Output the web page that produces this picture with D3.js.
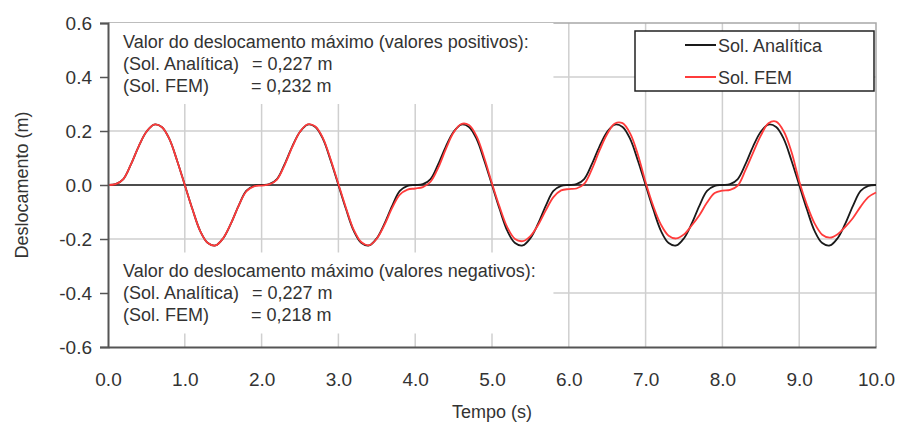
<!DOCTYPE html>
<html>
<head>
<meta charset="utf-8">
<script src="https://cdn.jsdelivr.net/npm/d3@7"></script>
<style>
  body { margin: 0; background: #fff; }
  svg { display: block; font-family: "Liberation Sans", Arial, sans-serif; }
</style>
</head>
<body>
<svg width="898" height="426"></svg>
<script>
// time (s)
var tempo = [
  0.0, 0.1, 0.2, 0.3, 0.4, 0.5, 0.6, 0.7, 0.8, 0.9,
  1.0, 1.1, 1.2, 1.3, 1.4, 1.5, 1.6, 1.7, 1.8, 1.9,
  2.0, 2.1, 2.2, 2.3, 2.4, 2.5, 2.6, 2.7, 2.8, 2.9,
  3.0, 3.1, 3.2, 3.3, 3.4, 3.5, 3.6, 3.7, 3.8, 3.9,
  4.0, 4.1, 4.2, 4.3, 4.4, 4.5, 4.6, 4.7, 4.8, 4.9,
  5.0, 5.1, 5.2, 5.3, 5.4, 5.5, 5.6, 5.7, 5.8, 5.9,
  6.0, 6.1, 6.2, 6.3, 6.4, 6.5, 6.6, 6.7, 6.8, 6.9,
  7.0, 7.1, 7.2, 7.3, 7.4, 7.5, 7.6, 7.7, 7.8, 7.9,
  8.0, 8.1, 8.2, 8.3, 8.4, 8.5, 8.6, 8.7, 8.8, 8.9,
  9.0, 9.1, 9.2, 9.3, 9.4, 9.5, 9.6, 9.7, 9.8, 9.9,
  10.0
];

// Sol. Analitica (m)
var analitica = [
  0.000, 0.003, 0.022, 0.077, 0.143, 0.197, 0.224, 0.215, 0.170, 0.090,
  0.000, -0.090, -0.170, -0.215, -0.224, -0.197, -0.143, -0.077, -0.022, -0.003,
  0.000, 0.003, 0.022, 0.077, 0.143, 0.197, 0.224, 0.215, 0.170, 0.090,
  0.000, -0.090, -0.170, -0.215, -0.224, -0.197, -0.143, -0.077, -0.022, -0.003,
  0.000, 0.003, 0.022, 0.077, 0.143, 0.197, 0.224, 0.215, 0.170, 0.090,
  0.000, -0.090, -0.170, -0.215, -0.224, -0.197, -0.143, -0.077, -0.022, -0.003,
  0.000, 0.003, 0.022, 0.077, 0.143, 0.197, 0.224, 0.215, 0.170, 0.090,
  0.000, -0.090, -0.170, -0.215, -0.224, -0.197, -0.143, -0.077, -0.022, -0.003,
  0.000, 0.003, 0.022, 0.077, 0.143, 0.197, 0.224, 0.215, 0.170, 0.090,
  0.000, -0.090, -0.170, -0.215, -0.224, -0.197, -0.143, -0.077, -0.022, -0.003,
  0.000
];

// Sol. FEM (m)
var fem = [
  0.000, 0.003, 0.022, 0.077, 0.143, 0.197, 0.224, 0.215, 0.170, 0.090,
  0.000, -0.090, -0.170, -0.215, -0.224, -0.197, -0.143, -0.078, -0.024, -0.005,
  -0.002, 0.002, 0.020, 0.074, 0.141, 0.197, 0.225, 0.217, 0.173, 0.094,
  0.004, -0.086, -0.166, -0.212, -0.223, -0.199, -0.148, -0.085, -0.036, -0.017,
  -0.013, -0.008, 0.012, 0.064, 0.134, 0.194, 0.226, 0.222, 0.180, 0.100,
  0.006, -0.082, -0.157, -0.200, -0.208, -0.189, -0.148, -0.094, -0.045, -0.020,
  -0.015, -0.013, 0.004, 0.058, 0.128, 0.189, 0.228, 0.229, 0.190, 0.112,
  0.010, -0.078, -0.147, -0.188, -0.198, -0.183, -0.150, -0.112, -0.065, -0.030,
  -0.021, -0.018, -0.002, 0.055, 0.120, 0.183, 0.229, 0.235, 0.198, 0.122,
  0.014, -0.073, -0.142, -0.184, -0.195, -0.182, -0.155, -0.122, -0.080, -0.045,
  -0.028
];

var xTicks = [0, 1, 2, 3, 4, 5, 6, 7, 8, 9, 10];
var yTicks = [-0.6, -0.4, -0.2, 0, 0.2, 0.4, 0.6];

var textoPos = [
  "Valor do deslocamento máximo (valores positivos):",
  "(Sol. Analítica)", "= 0,227 m",
  "(Sol. FEM)", "= 0,232 m"
];
var textoNeg = [
  "Valor do deslocamento máximo (valores negativos):",
  "(Sol. Analítica)", "= 0,227 m",
  "(Sol. FEM)", "= 0,218 m"
];

var series = [
  { name: "Sol. Analítica", values: analitica, color: "#1a1a1a" },
  { name: "Sol. FEM", values: fem, color: "#ff3b3b" }
];

var margin = { top: 23, right: 22, bottom: 79, left: 108 };
var svg = d3.select('svg');
var width = +svg.attr('width') - margin.left - margin.right;
var height = +svg.attr('height') - margin.top - margin.bottom;

var x = d3.scaleLinear().domain([0, 10]).range([0, width]);
var y = d3.scaleLinear().domain([-0.6, 0.6]).range([height, 0]);

var g = svg.append('g').attr('transform', 'translate(' + margin.left + ',' + margin.top + ')');

// grid
g.append('g').attr('class', 'grid')
  .selectAll('line.v').data(xTicks.slice(1, -1)).enter().append('line')
  .attr('x1', function(d) { return x(d); }).attr('x2', function(d) { return x(d); })
  .attr('y1', 0).attr('y2', height)
  .style('stroke', '#cfcfcf').style('stroke-width', 1.5);

g.append('g').attr('class', 'grid')
  .selectAll('line.h').data(yTicks.filter(function(d) { return d !== 0 && Math.abs(d) < 0.6; })).enter().append('line')
  .attr('x1', 0).attr('x2', width)
  .attr('y1', function(d) { return y(d); }).attr('y2', function(d) { return y(d); })
  .style('stroke', '#cfcfcf').style('stroke-width', 1.5);

// top / right frame
g.append('path')
  .attr('d', 'M0,' + y(0.6) + 'H' + x(10) + 'V' + y(-0.6))
  .style('fill', 'none').style('stroke', '#a8a8a8').style('stroke-width', 1.5);

// white boxes behind the annotations
g.append('rect').attr('x', 0).attr('y', 0)
  .attr('width', x(5.8)).attr('height', y(0.3))
  .style('fill', '#fff');
g.append('rect').attr('x', 0).attr('y', y(-0.25))
  .attr('width', x(5.8)).attr('height', y(-0.55) - y(-0.25))
  .style('fill', '#fff');

// zero line
g.append('line')
  .attr('x1', 0).attr('x2', width)
  .attr('y1', y(0)).attr('y2', y(0))
  .style('stroke', '#111').style('stroke-width', 1.5);

var line = d3.line()
  .x(function(d) { return x(d[0]); })
  .y(function(d) { return y(d[1]); })
  .curve(d3.curveCatmullRom.alpha(0.5));

g.selectAll('path.serie').data(series).enter().append('path')
  .attr('class', 'serie')
  .attr('d', function(s) {
    return line(tempo.map(function(t, i) { return [t, s.values[i]]; }));
  })
  .style('fill', 'none')
  .style('stroke', function(s) { return s.color; })
  .style('stroke-width', 1.8);

// axes
var yAxis = g.append('g')
  .call(d3.axisLeft(y).tickValues(yTicks).tickSize(8).tickPadding(8)
    .tickFormat(function(d) { return d.toFixed(1); }));
var xAxis = g.append('g').attr('transform', 'translate(0,' + height + ')')
  .call(d3.axisBottom(x).tickValues(xTicks).tickSize(0).tickPadding(26)
    .tickFormat(function(d) { return d.toFixed(1); }));

[yAxis, xAxis].forEach(function(a) {
  a.select('.domain').style('stroke', '#555').style('stroke-width', 2);
  a.selectAll('.tick line').style('stroke', '#555').style('stroke-width', 1.5);
  a.selectAll('.tick text').style('font-size', '19px').style('fill', '#333')
    .style('font-family', '"Liberation Sans", Arial, sans-serif');
});

// annotation text
function bloco(linhas, y0) {
  var t = g.append('g').style('font-size', '18px').style('fill', '#333');
  t.append('text').attr('x', 15).attr('y', y0).text(linhas[0]);
  t.append('text').attr('x', 15).attr('y', y0 + 22).text(linhas[1]);
  t.append('text').attr('x', 144).attr('y', y0 + 22).text(linhas[2]);
  t.append('text').attr('x', 15).attr('y', y0 + 44).text(linhas[3]);
  t.append('text').attr('x', 143).attr('y', y0 + 44).text(linhas[4]);
}
bloco(textoPos, 25);
bloco(textoNeg, 254);

// legend
var leg = g.append('g').attr('transform', 'translate(527,8)');
leg.append('rect').attr('width', 239).attr('height', 60)
  .style('fill', '#fff').style('stroke', '#222').style('stroke-width', 1.5);
var item = leg.selectAll('g.item').data(series).enter().append('g')
  .attr('transform', function(d, i) { return 'translate(50,' + (14 + i * 32) + ')'; });
item.append('line').attr('x1', 0).attr('x2', 31)
  .style('stroke', function(d) { return d.color; }).style('stroke-width', 2);
item.append('text').attr('x', 33).attr('y', 7).text(function(d) { return d.name; })
  .style('font-size', '18px').style('fill', '#333');

// axis titles
svg.append('text')
  .attr('x', margin.left + width / 2).attr('y', 418)
  .attr('text-anchor', 'middle')
  .style('font-size', '18px').style('fill', '#333')
  .text('Tempo (s)');
svg.append('text')
  .attr('transform', 'translate(28,' + (margin.top + y(0)) + ') rotate(-90)')
  .attr('text-anchor', 'middle')
  .style('font-size', '18px').style('fill', '#333')
  .text('Deslocamento (m)');
</script>
</body>
</html>
